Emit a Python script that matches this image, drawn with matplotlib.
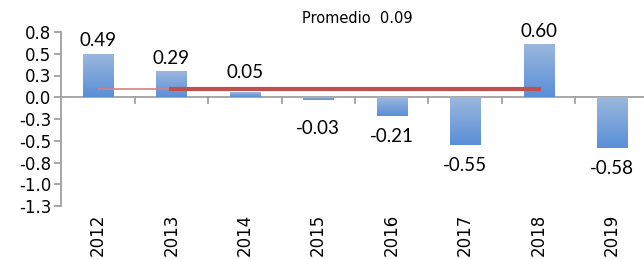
import numpy as np
import matplotlib
matplotlib.use('Agg')
import matplotlib.pyplot as plt
from matplotlib.colors import LinearSegmentedColormap

# Data
years = ['2012', '2013', '2014', '2015', '2016', '2017', '2018', '2019']
values = [0.49, 0.29, 0.05, -0.03, -0.21, -0.55, 0.60, -0.58]
promedio = 0.09
avg_label = 'Promedio  0.09'
yticks = [0.75, 0.5, 0.25, 0.0, -0.25, -0.5, -0.75, -1.0, -1.25]
ytick_labels = ['0.8', '0.5', '0.3', '0.0', '-0.3', '-0.5', '-0.8', '-1.0', '-1.3']

fig = plt.figure(figsize=(6.44, 2.59), dpi=100)
ax = fig.add_axes([61 / 644, 1 - 206 / 259, 588 / 644, 174 / 259])

x = np.arange(len(years))
bars = ax.bar(x, values, width=0.41, color='none', zorder=2)

# vertical gradient fill for each bar (light on top, darker at bottom)
cmap = LinearSegmentedColormap.from_list('g', ['#5a8fd8', '#9bb7dd'])
grad = np.linspace(0, 1, 100).reshape(-1, 1)
for b in bars:
    x0, y0 = b.get_x(), b.get_y()
    w, h = b.get_width(), b.get_height()
    lo, hi = min(y0, y0 + h), max(y0, y0 + h)
    ax.imshow(grad, cmap=cmap, aspect='auto', extent=(x0, x0 + w, lo, hi),
              origin='lower', zorder=2)

# average line
ax.plot([0, 1], [promedio, promedio], color='#d98080', lw=1.2, zorder=3)
ax.plot([1, 6], [promedio, promedio], color='#c0504d', lw=3, zorder=3)
ax.text(3.53, 0.91, avg_label, fontsize=10.5, family='DejaVu Sans',
        ha='center', va='center', clip_on=False)

# data labels
for xi, v in zip(x, values):
    if v >= 0:
        ypos = max(v + 0.16, 0.28)
    else:
        ypos = min(v - 0.24, -0.36)
    ax.text(xi, ypos, f'{v:.2f}', ha='center', va='center',
            fontsize=13.5, family='Lato', clip_on=False)

ax.set_xlim(-0.5, len(years) - 0.5)
ax.set_ylim(-1.25, 0.75)
ax.set_yticks(yticks)
ax.set_yticklabels(ytick_labels, fontsize=12)

ax.set_xticks(x)
ax.set_xticklabels([])
ax.tick_params(axis='x', length=0)
for xi in np.arange(0.5, len(years) - 0.5, 1):
    ax.plot([xi, xi], [0, -0.07], color='#a0a0a0', lw=1.3, zorder=1)
for xi, yr in zip(x, years):
    ax.text(xi, -1.34, yr, rotation=90, ha='center', va='top', fontsize=12,
            clip_on=False)

ax.axhline(0, color='#a0a0a0', lw=1.3, zorder=1)
for s in ['top', 'right', 'bottom']:
    ax.spines[s].set_visible(False)
ax.spines['left'].set_color('#a0a0a0')
ax.spines['left'].set_linewidth(1.3)
ax.tick_params(axis='y', color='#a0a0a0', length=5, width=1.3, pad=2)

fig.savefig('out.png', dpi=100)
